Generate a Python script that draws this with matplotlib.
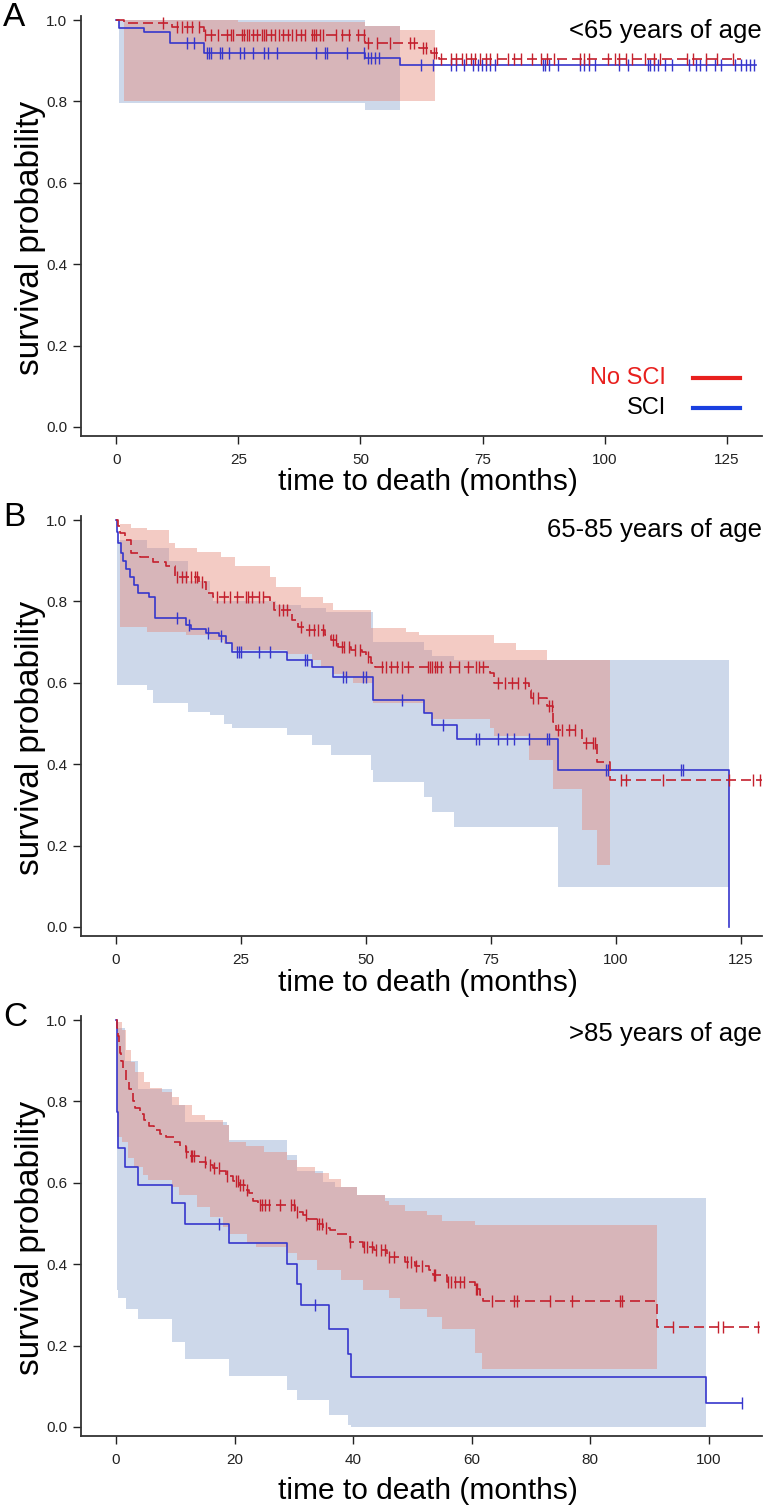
import numpy as np
import matplotlib.pyplot as plt

plt.rcParams['font.family'] = ['Liberation Sans', 'DejaVu Sans']

W, H = 768, 1511
RED = '#C4202D'
BLUE = '#3636CC'
RED_BAND = '#E58C7E'
BLUE_BAND = '#CDD8EA'

# ---------------- Panel A: <65 years of age ----------------
a_nosci_t = [0, 1.5, 11.5, 18, 51, 62, 64.5, 66]
a_nosci_s = [1.0, 0.993, 0.984, 0.962, 0.944, 0.93, 0.92, 0.905]
a_nosci_end = 128
a_nosci_cens = [9.5, 12.5, 13.5, 14.5, 15.5, 17, 18.2, 19.5, 20.9, 22.6, 23.5, 24.0, 25.8,
                26.2, 26.7, 27.1, 28.0, 28.9, 29.8, 30.2, 30.7, 31.6, 32.5, 33.3, 34.2,
                35.1, 36.0, 36.9, 37.8, 38.7, 40.0, 40.5, 40.9, 41.8, 42.3, 44.9, 46.3,
                47.6, 49.4, 50.7, 51.6, 53.4, 56.1, 60.1, 61.0, 62.8, 63.5, 65.0, 65.5,
                66.4, 68.6, 69.5, 70.8, 71.7, 72.6, 73.5, 74.4, 75.7, 76.6, 78.0, 80.2,
                81.5, 82.9, 85.1, 86.9, 88.2, 89.6, 94.9, 95.8, 96.7, 100.7, 102.1, 103.0,
                104.3, 105.6, 108.3, 110.1, 111.4, 116.9, 118.1, 120.8, 123.0, 126.2]
a_nosci_lo_t = [1.5]
a_nosci_lo_v = [0.80]
a_nosci_hi_t = [1.5, 25, 51, 58]
a_nosci_hi_v = [1.0, 0.995, 0.985, 0.975]
a_nosci_band_end = 65.3

a_sci_t = [0, 0.5, 5.7, 11, 18, 51, 58]
a_sci_s = [1.0, 0.98, 0.97, 0.944, 0.919, 0.906, 0.889]
a_sci_end = 131
a_sci_cens = [14.6, 16.0, 18.6, 19.1, 19.5, 21.3, 21.7, 23.1, 25.3, 26.2, 28.0, 30.2, 31.1,
              32.9, 40.9, 42.7, 43.2, 47.2, 50.7, 51.6, 52.1, 53.0, 53.9, 62.3, 64.8, 68.6,
              69.5, 71.3, 73.1, 74.0, 74.8, 75.7, 76.6, 77.5, 87.3, 87.8, 88.7, 90.5, 94.9,
              95.8, 96.7, 98.1, 103.0, 104.8, 108.8, 109.2, 110.1, 111.0, 112.3, 113.7,
              117.2, 118.6, 119.5, 120.8, 122.6, 123.9, 126.6, 128.0, 128.9, 129.7, 130.6]
a_sci_lo_t = [0.5, 51]
a_sci_lo_v = [0.795, 0.78]
a_sci_hi_t = [0.5, 51]
a_sci_hi_v = [1.0, 0.985]
a_sci_band_end = 58

# ---------------- Panel B: 65-85 years of age ----------------
b_nosci_t = [0, 0.5, 0.9, 1.8, 3.1, 4.9, 7.5, 10.1, 11.9, 16.7, 18.1, 19.4, 30.8, 31.7,
             35.2, 36.5, 37.8, 41.8, 43.1, 44.4, 47.1, 49.3, 50.1, 51.0, 51.9, 74.8, 75.6,
             82.7, 83.1, 86.2, 87.5, 88.0, 93.2, 96.3, 98.9]
b_nosci_s = [1.0, 0.985, 0.967, 0.95, 0.92, 0.91, 0.898, 0.886, 0.86, 0.848, 0.82, 0.812,
             0.80, 0.779, 0.754, 0.738, 0.73, 0.717, 0.705, 0.688, 0.68, 0.676, 0.664,
             0.648, 0.64, 0.623, 0.60, 0.583, 0.563, 0.543, 0.503, 0.484, 0.452, 0.405, 0.36]
b_nosci_end = 129.3
b_nosci_cens = [12.3, 13.2, 14.1, 15.0, 15.9, 16.3, 17.2, 20.3, 21.6, 22.9, 24.2, 26.0, 26.4,
                27.3, 28.6, 29.5, 32.6, 33.4, 34.3, 37.0, 38.7, 39.6, 40.5, 41.4, 43.5, 44.0,
                45.3, 45.7, 46.6, 47.9, 48.8, 50.5, 53.2, 54.1, 55.0, 56.3, 57.2, 58.5, 62.4,
                62.9, 63.3, 63.8, 64.2, 65.1, 66.8, 68.6, 70.4, 72.1, 72.6, 73.4, 76.5, 77.8,
                79.2, 80.5, 81.8, 83.5, 84.4, 86.6, 87.2, 88.4, 89.3, 90.6, 91.9, 94.1, 95.4,
                95.9, 101.1, 102.0, 109.5, 122.7, 127.5, 128.8]
b_nosci_lo_t = [0.9, 6.2, 14.1, 18.9, 21.6, 23.3, 34.3, 39.2, 41.0, 43.5, 45.7, 47.5, 51.5,
                61.6, 63.3, 74.8, 75.6, 82.7, 87.5, 93.2, 96.3]
b_nosci_lo_v = [0.738, 0.725, 0.717, 0.705, 0.695, 0.68, 0.67, 0.655, 0.64, 0.622, 0.614,
                0.60, 0.55, 0.526, 0.51, 0.49, 0.47, 0.41, 0.34, 0.238, 0.152]
b_nosci_hi_t = [0.9, 3.0, 6.2, 10.6, 11.9, 16.3, 21.1, 23.8, 30.8, 32.1, 37.0, 41.4, 43.5,
                51.0, 58.0, 60.7, 75.6, 80.0, 86.2]
b_nosci_hi_v = [0.99, 0.98, 0.975, 0.943, 0.93, 0.922, 0.91, 0.886, 0.86, 0.836, 0.812,
                0.795, 0.779, 0.734, 0.726, 0.717, 0.698, 0.68, 0.656]
b_nosci_band_end = 98.9

b_sci_t = [0, 0.2, 0.5, 1.0, 1.4, 2.0, 2.8, 3.7, 4.4, 6.6, 7.9, 14.1, 15.0, 18.0, 20.7,
           22.0, 23.3, 34.3, 39.2, 43.5, 51.5, 61.6, 63.3, 68.2, 88.4, 122.7]
b_sci_s = [1.0, 0.97, 0.943, 0.92, 0.90, 0.88, 0.86, 0.84, 0.82, 0.81, 0.76, 0.742, 0.733,
           0.722, 0.714, 0.698, 0.676, 0.655, 0.64, 0.614, 0.558, 0.526, 0.496, 0.462,
           0.385, 0.0]
b_sci_end = 122.7
b_sci_cens = [12.3, 14.6, 18.5, 21.1, 24.2, 24.6, 25.0, 28.6, 30.8, 37.8, 38.3, 45.5, 46.0,
              49.5, 50.0, 57.2, 65.5, 72.1, 72.6, 76.5, 78.3, 79.6, 82.7, 86.2, 86.6, 98.1,
              98.5, 113.0, 113.4]
b_sci_lo_t = [0.2, 6.2, 7.5, 14.5, 18.9, 21.6, 23.3, 34.3, 39.2, 43.1, 51.0, 51.5, 61.6,
              63.3, 67.7, 88.4]
b_sci_lo_v = [0.594, 0.582, 0.55, 0.528, 0.52, 0.50, 0.49, 0.472, 0.447, 0.423, 0.386,
              0.357, 0.32, 0.283, 0.246, 0.098]
b_sci_hi_t = [0.2, 6.2, 10.6, 14.5, 18.9, 19.4, 32.0, 37.0, 42.0, 51.5, 61.6, 63.3, 67.7]
b_sci_hi_v = [0.95, 0.93, 0.90, 0.85, 0.82, 0.80, 0.79, 0.785, 0.775, 0.70, 0.68, 0.665,
              0.656]
b_sci_band_end = 122.7

# ---------------- Panel C: >85 years of age ----------------
c_nosci_t = [0, 0.1, 0.3, 0.5, 0.7, 0.9, 1.2, 1.7, 2.2, 2.8, 3.2, 4.0, 4.8, 5.6, 6.5, 7.4,
             8.5, 9.8, 10.8, 11.8, 12.4, 14.0, 15.2, 16.4, 17.6, 18.6, 19.8, 20.8, 21.8,
             22.4, 23.2, 24.0, 30.2, 31.5, 32.4, 33.9, 35.0, 36.1, 37.3, 39.5, 41.7, 43.5,
             45.8, 48.7, 50.5, 52.8, 53.5, 55.8, 60.6, 61.5, 62.0, 91.3]
c_nosci_s = [1.0, 0.98, 0.96, 0.94, 0.92, 0.90, 0.88, 0.85, 0.83, 0.80, 0.785, 0.77, 0.755,
             0.74, 0.73, 0.72, 0.713, 0.70, 0.69, 0.675, 0.665, 0.652, 0.644, 0.636, 0.628,
             0.617, 0.605, 0.594, 0.583, 0.574, 0.556, 0.546, 0.528, 0.52, 0.51, 0.50, 0.49,
             0.484, 0.475, 0.455, 0.443, 0.435, 0.418, 0.406, 0.395, 0.385, 0.373, 0.357,
             0.34, 0.325, 0.31, 0.246]
c_nosci_end = 108.7
c_nosci_cens = [11.9, 12.6, 12.9, 13.2, 15.1, 15.8, 16.6, 17.3, 18.8, 20.3, 20.6, 21.0, 21.4,
                22.1, 24.3, 24.7, 25.1, 25.8, 27.6, 29.6, 30.0, 30.6, 32.1, 33.9, 34.3, 34.7,
                35.4, 39.5, 41.9, 42.4, 43.2, 43.9, 44.7, 45.4, 46.1, 46.9, 49.1, 49.8, 50.6,
                51.7, 53.6, 53.9, 56.1, 56.5, 57.2, 58.0, 58.7, 60.7, 60.9, 63.5, 67.2, 67.6,
                73.2, 76.9, 85.0, 85.4, 93.9, 101.6, 102.4, 108.3]
c_nosci_lo_t = [0.1, 1.0, 2.0, 3.0, 4.5, 5.4, 9.5, 10.6, 13.6, 15.8, 18.0, 19.1, 22.1, 23.6,
                28.8, 30.6, 33.9, 38.0, 41.7, 46.1, 48.0, 52.4, 55.0, 60.6, 61.7]
c_nosci_lo_v = [0.713, 0.70, 0.66, 0.64, 0.62, 0.607, 0.59, 0.57, 0.541, 0.517, 0.492,
                0.475, 0.451, 0.443, 0.427, 0.41, 0.385, 0.361, 0.336, 0.316, 0.291, 0.271,
                0.242, 0.181, 0.142]
c_nosci_hi_t = [0.1, 1.0, 1.7, 2.5, 3.2, 4.7, 5.8, 7.7, 9.5, 10.6, 12.8, 15.1, 18.0, 19.1,
                22.0, 25.0, 28.8, 30.6, 33.5, 36.0, 38.0, 40.6, 45.4, 46.1, 48.7, 52.4, 55.0,
                60.6]
c_nosci_hi_v = [0.995, 0.975, 0.926, 0.897, 0.873, 0.848, 0.832, 0.824, 0.811, 0.791, 0.766,
                0.754, 0.742, 0.70, 0.69, 0.675, 0.655, 0.64, 0.625, 0.61, 0.59, 0.57, 0.555,
                0.545, 0.53, 0.52, 0.505, 0.496]
c_nosci_band_end = 91.3

c_sci_t = [0, 0.1, 0.2, 0.3, 1.6, 3.8, 9.5, 11.6, 19.1, 28.8, 30.6, 31.2, 36.0, 39.1, 39.6,
           99.6]
c_sci_s = [1.0, 0.91, 0.774, 0.685, 0.64, 0.594, 0.55, 0.50, 0.453, 0.40, 0.351, 0.30, 0.24,
           0.18, 0.122, 0.06]
c_sci_end = 105.6
c_sci_cens = [17.3, 33.6, 105.6]
c_sci_lo_t = [0.1, 0.3, 1.7, 3.8, 9.5, 11.6, 19.1, 28.8, 30.6, 36.0, 39.1, 39.6]
c_sci_lo_v = [0.336, 0.316, 0.291, 0.265, 0.208, 0.167, 0.126, 0.09, 0.066, 0.03, 0.005, 0.0]
c_sci_hi_t = [0.1, 1.6, 3.8, 9.5, 11.6, 18.8, 19.1, 28.8, 30.6, 35.0, 36.9, 40.6, 45.4]
c_sci_hi_v = [0.98, 0.90, 0.83, 0.79, 0.75, 0.742, 0.705, 0.668, 0.63, 0.603, 0.59, 0.57,
              0.562]
c_sci_band_end = 99.6


# value of a step function (right-continuous) at the given times
def step_at(t, v, x):
    idx = np.searchsorted(np.asarray(t), np.asarray(x), side='right') - 1
    return np.asarray(v)[np.clip(idx, 0, None)]


def draw_band(ax, lo_t, lo_v, hi_t, hi_v, end, color, alpha):
    grid = np.union1d(lo_t, hi_t)
    grid = np.append(grid[grid < end], end)
    lo = step_at(lo_t, lo_v, grid)
    hi = step_at(hi_t, hi_v, grid)
    ax.fill_between(grid, lo, hi, step='post', color=color, alpha=alpha, lw=0)


def draw_curve(ax, t, s, end, cens, color, dashed):
    tt = np.append(t, end)
    ss = np.append(s, s[-1])
    ls = (0, (6, 3)) if dashed else '-'
    ax.plot(tt, ss, drawstyle='steps-post', color=color, lw=1.2, ls=ls)
    ax.plot(cens, step_at(t, s, cens), ls='none', marker='|', ms=8, mew=1.0, color=color)


fig = plt.figure(figsize=(W / 100, H / 100), dpi=100)


def make_axes(top, bottom, xlim, xticks):
    ax = fig.add_axes([81 / W, 1 - bottom / H, (762 - 81) / W, (bottom - top) / H])
    ax.set_xlim(xlim)
    ax.set_ylim(-9 / 407, 1 + 4 / 407)
    ax.set_xticks(xticks)
    ax.set_yticks([0, 0.2, 0.4, 0.6, 0.8, 1.0])
    ax.set_yticklabels(['0.0', '0.2', '0.4', '0.6', '0.8', '1.0'])
    for side in ['top', 'right']:
        ax.spines[side].set_visible(False)
    for side in ['left', 'bottom']:
        ax.spines[side].set_color('#333333')
        ax.spines[side].set_linewidth(1.3)
    ax.tick_params(axis='y', length=6, width=1, pad=4, labelsize=11, colors='#222222')
    ax.tick_params(axis='x', length=6, width=1, pad=6, labelsize=11, colors='#222222')
    return ax


def px(x, y):
    return x / W, 1 - y / H


panels = [
    dict(letter='A', title='<65 years of age', top=16, bottom=436, xlim=(-7.2, 132.2),
         xticks=[0, 25, 50, 75, 100, 125], title_y=31, xlabel_y=482,
         red=(a_nosci_t, a_nosci_s, a_nosci_end, a_nosci_cens,
              a_nosci_lo_t, a_nosci_lo_v, a_nosci_hi_t, a_nosci_hi_v, a_nosci_band_end),
         blue=(a_sci_t, a_sci_s, a_sci_end, a_sci_cens,
               a_sci_lo_t, a_sci_lo_v, a_sci_hi_t, a_sci_hi_v, a_sci_band_end)),
    dict(letter='B', title='65-85 years of age', top=516, bottom=936, xlim=(-6.95, 129.2),
         xticks=[0, 25, 50, 75, 100, 125], title_y=530, xlabel_y=983,
         red=(b_nosci_t, b_nosci_s, b_nosci_end, b_nosci_cens,
              b_nosci_lo_t, b_nosci_lo_v, b_nosci_hi_t, b_nosci_hi_v, b_nosci_band_end),
         blue=(b_sci_t, b_sci_s, b_sci_end, b_sci_cens,
               b_sci_lo_t, b_sci_lo_v, b_sci_hi_t, b_sci_hi_v, b_sci_band_end)),
    dict(letter='C', title='>85 years of age', top=1016, bottom=1436, xlim=(-5.9, 109.0),
         xticks=[0, 20, 40, 60, 80, 100], title_y=1034, xlabel_y=1491,
         red=(c_nosci_t, c_nosci_s, c_nosci_end, c_nosci_cens,
              c_nosci_lo_t, c_nosci_lo_v, c_nosci_hi_t, c_nosci_hi_v, c_nosci_band_end),
         blue=(c_sci_t, c_sci_s, c_sci_end, c_sci_cens,
               c_sci_lo_t, c_sci_lo_v, c_sci_hi_t, c_sci_hi_v, c_sci_band_end)),
]

for p in panels:
    ax = make_axes(p['top'], p['bottom'], p['xlim'], p['xticks'])
    bt, bs, bend, bcens, blt, blv, bht, bhv, bbend = p['blue']
    rt, rs, rend, rcens, rlt, rlv, rht, rhv, rbend = p['red']
    draw_band(ax, blt, blv, bht, bhv, bbend, BLUE_BAND, 1.0)
    draw_band(ax, rlt, rlv, rht, rhv, rbend, RED_BAND, 0.45)
    draw_curve(ax, bt, bs, bend, bcens, BLUE, False)
    draw_curve(ax, rt, rs, rend, rcens, RED, True)

    fig.text(*px(762, p['title_y']), p['title'], ha='right', va='center', fontsize=18.5)
    fig.text(*px(3, p['top'] + 2), p['letter'], ha='left', va='center', fontsize=24)
    fig.text(*px(31, (p['top'] + p['bottom']) / 2 + 12), 'survival probability',
             rotation=90, ha='center', va='center', fontsize=24)
    fig.text(*px(428, p['xlabel_y']), 'time to death (months)',
             ha='center', va='center', fontsize=21.5)

    if p['letter'] == 'A':
        fig.text(*px(666, 378), 'No SCI', color='#E8201E', ha='right', va='center', fontsize=17)
        fig.text(*px(666, 408), 'SCI', color='black', ha='right', va='center', fontsize=17)
        fig.lines.append(plt.Line2D([693 / W, 740 / W], [1 - 378 / H] * 2, color='#E8201E',
                                    lw=3, transform=fig.transFigure))
        fig.lines.append(plt.Line2D([693 / W, 740 / W], [1 - 408 / H] * 2, color='#1A3FE0',
                                    lw=3, transform=fig.transFigure))

fig.savefig('out.png', dpi=100)
